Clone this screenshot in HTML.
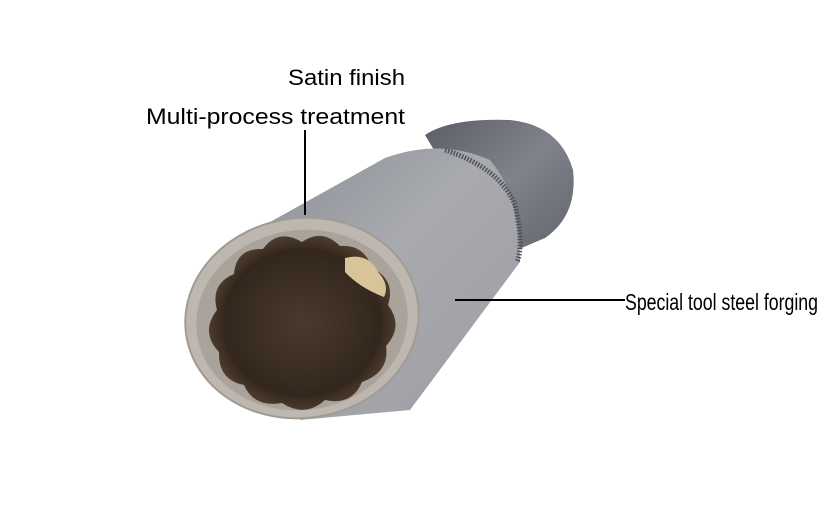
<!DOCTYPE html>
<html><head><style>
html,body{margin:0;padding:0;background:#fff;width:820px;height:520px;overflow:hidden}
svg{display:block}
text{font-family:"Liberation Sans",sans-serif;fill:#000}
</style></head><body>
<svg width="820" height="520" viewBox="0 0 820 520">
<defs>
<linearGradient id="body" x1="0" y1="0" x2="1" y2="1">
<stop offset="0" stop-color="#8a8d95"/><stop offset="0.45" stop-color="#a8aaaf"/><stop offset="1" stop-color="#9b9da2"/>
</linearGradient>
<linearGradient id="back" x1="0" y1="0" x2="1" y2="1">
<stop offset="0" stop-color="#5a5d66"/><stop offset="0.5" stop-color="#80838b"/><stop offset="1" stop-color="#62646b"/>
</linearGradient>
<radialGradient id="inner" cx="0.5" cy="0.5" r="0.6">
<stop offset="0" stop-color="#4a3a2c"/><stop offset="0.7" stop-color="#33271d"/><stop offset="1" stop-color="#6b5540"/>
</radialGradient>
</defs>
<path d="M425,135 Q450,118 510,120 Q560,125 573,170 Q578,215 545,238 L505,255 L440,160 Z" fill="url(#back)"/>
<path d="M245,236 L385,158 Q440,138 490,160 Q520,195 520,262 L410,410 L300,420 Z" fill="url(#body)"/>
<path d="M445,150 Q500,168 515,205 Q524,245 517,262" fill="none" stroke="#4e5056" stroke-width="5" stroke-dasharray="1.5 1.5"/>
<ellipse cx="302" cy="318" rx="117" ry="100" transform="rotate(-8 302 318)" fill="#bdb7af" stroke="#a29b93" stroke-width="2"/>
<ellipse cx="302" cy="320" rx="106" ry="90" transform="rotate(-8 302 320)" fill="#aaa39b"/>
<path d="M302,242 Q322,228 340,246 Q364,244 372,268 Q396,280 388,305 Q404,326 386,346 Q390,372 362,382 Q352,406 325,400 Q305,418 282,403 Q254,408 244,385 Q218,380 219,352 Q200,332 217,310 Q210,284 234,274 Q236,248 263,249 Q278,228 302,242 Z" fill="url(#inner)"/>
<path d="M345,258 Q368,252 378,272 Q390,285 384,297 Q360,288 345,272 Z" fill="#d9c49a"/>
<text x="288" y="85" font-size="22" textLength="117" lengthAdjust="spacingAndGlyphs">Satin finish</text>
<text x="146" y="124" font-size="22" textLength="259" lengthAdjust="spacingAndGlyphs">Multi-process treatment</text>
<line x1="305" y1="130" x2="305" y2="215" stroke="#000" stroke-width="2"/>
<line x1="455" y1="300" x2="625" y2="300" stroke="#000" stroke-width="2"/>
<text x="625" y="310" font-size="23" textLength="193" lengthAdjust="spacingAndGlyphs">Special tool steel forging</text>
</svg>
</body></html>
